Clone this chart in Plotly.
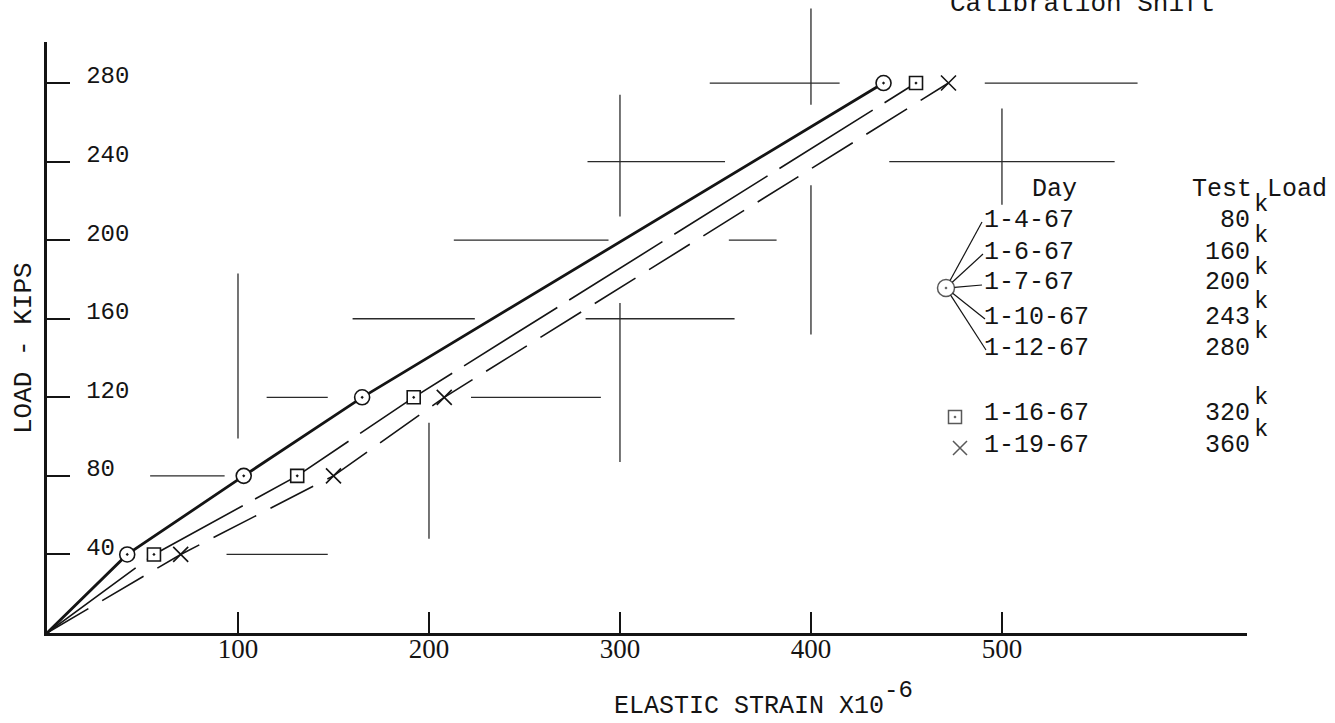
import plotly.graph_objects as go

# Calibration readings: load steps (kips) and elastic strain (x10^-6) per run
load_kips = [40, 80, 120, 280]
strain_circle = [42, 103, 165, 438]
strain_square = [56, 131, 192, 455]
strain_cross = [70, 150, 208, 472]

x_tick_vals = [100, 200, 300, 400, 500]
x_tick_text = ["100", "200", "300", "400", "500"]
y_tick_vals = [40, 80, 120, 160, 200, 240, 280]
y_tick_text = ["40", "80", "120", "160", "200", "240", "280"]

circle_days = ["1-4-67", "1-6-67", "1-7-67", "1-10-67", "1-12-67"]
circle_loads = [80, 160, 200, 243, 280]
square_day, square_load = "1-16-67", 320
cross_day, cross_load = "1-19-67", 360

# Drafting-grid guide strokes: (load, strain_from, strain_to) and (strain, load_from, load_to)
guide_h = [(280, 347, 415), (280, 491, 571), (240, 283, 355), (240, 441, 559),
           (200, 213, 294), (200, 357, 382), (160, 160, 224), (160, 282, 360),
           (120, 115, 147), (120, 222, 290), (80, 54, 93), (40, 94, 147)]
guide_v = [(100, 99, 183), (200, 48, 107), (300, 212, 274), (300, 87, 168),
           (400, 269, 318), (400, 152, 228), (500, 218, 267)]

# ---- page geometry (pixels) ----
FIG_W, FIG_H = 1335, 723
AX_L, AX_R, AX_T, AX_B = 47, 1247, 42, 633
X_MAX, Y_MAX = 628.3, 300.9
INK = "#141414"
MONO = "Liberation Mono"


def px_x(v):
    return AX_L + v * (AX_R - AX_L) / X_MAX


def px_y(v):
    return AX_B - v * (AX_B - AX_T) / Y_MAX


def paper(px, py):
    return px / FIG_W, 1 - py / FIG_H


fig = go.Figure()

# calibration lines, each starting at the origin
runs = [
    (strain_circle, "solid", 2.8, "circle-dot", 15),
    (strain_square, "110px,14px", 1.6, "square-dot", 13),
    (strain_cross, "48px,16px", 1.6, "x-thin", 15),
]
for strains, dash, width, symbol, size in runs:
    fig.add_trace(go.Scatter(
        x=[0] + strains, y=[0] + load_kips, mode="lines",
        line=dict(color=INK, width=width, dash=dash), hoverinfo="skip",
        showlegend=False, cliponaxis=False))
for strains, dash, width, symbol, size in runs:
    fig.add_trace(go.Scatter(
        x=strains, y=load_kips, mode="markers",
        marker=dict(symbol=symbol, size=size, color="white",
                    line=dict(color=INK, width=1.6)),
        showlegend=False, cliponaxis=False))

# guide strokes
shapes = []
for y, x0, x1 in guide_h:
    a = paper(px_x(x0), px_y(y))
    b = paper(px_x(x1), px_y(y))
    shapes.append(dict(type="line", xref="paper", yref="paper", x0=a[0], y0=a[1],
                       x1=b[0], y1=b[1], line=dict(color="#2a2a2a", width=1.3), layer="below"))
for x, y0, y1 in guide_v:
    a = paper(px_x(x), px_y(y0))
    b = paper(px_x(x), px_y(y1))
    shapes.append(dict(type="line", xref="paper", yref="paper", x0=a[0], y0=a[1],
                       x1=b[0], y1=b[1], line=dict(color="#2a2a2a", width=1.3), layer="below"))

# ---- key at the right ----
row_y = [220, 252, 283, 317, 348]
sq_row, cx_row = 413, 445
date_left = 982
load_right = 1252
circ_c = (946, 288)

annotations = []


def txt(s, x, y, anchor="left", size=25, font=MONO, yanchor="middle"):
    fx, fy = paper(x, y)
    annotations.append(dict(text=s, x=fx, y=fy, xref="paper", yref="paper",
                            xanchor=anchor, yanchor=yanchor, showarrow=False,
                            font=dict(family=font, size=size, color=INK)))


txt("Day", 1030, 190)
txt("Test Load", 1190, 190)
rows = list(zip(circle_days, circle_loads, row_y)) + [
    (square_day, square_load, sq_row), (cross_day, cross_load, cx_row)]
for d, ld, ry in rows:
    txt(d, date_left, ry)
    txt(str(ld), load_right, ry, anchor="right")
    txt("k", load_right, ry - 16, size=24)

# fan connecting the circle symbol to its five dates
for ry, dx in zip(row_y, [982, 983, 982, 985, 986]):
    vx, vy = dx - circ_c[0], (ry + 2) - circ_c[1]
    n = (vx * vx + vy * vy) ** 0.5
    sx, sy = circ_c[0] + 8.5 * vx / n, circ_c[1] + 8.5 * vy / n
    a = paper(sx, sy)
    b = paper(dx, ry + 2)
    shapes.append(dict(type="line", xref="paper", yref="paper", x0=a[0], y0=a[1],
                       x1=b[0], y1=b[1], line=dict(color=INK, width=1.2)))

fig.add_trace(go.Scatter(
    x=[circ_c[0], 955, 960], y=[circ_c[1], sq_row + 4, cx_row + 3], mode="markers",
    marker=dict(symbol=["circle-dot", "square-dot", "x-thin"], size=[17, 13, 14],
                color="white", line=dict(color=INK, width=1.5)),
    xaxis="x2", yaxis="y2", showlegend=False, hoverinfo="skip"))

# axis titles and heading
txt("ELASTIC STRAIN X10", 612, 706, size=25)
txt("-6", 882, 690, size=24)
fx, fy = paper(24, 348)
annotations.append(dict(text="LOAD - KIPS", x=fx, y=fy, xref="paper", yref="paper",
                        textangle=-90, showarrow=False, xanchor="center", yanchor="middle",
                        font=dict(family=MONO, size=26, color=INK)))
txt("Calibration Shift", 948, 21, size=26, yanchor="bottom")

fig.update_layout(
    width=FIG_W, height=FIG_H, margin=dict(l=0, r=0, t=0, b=0),
    paper_bgcolor="white", plot_bgcolor="rgba(0,0,0,0)",
    shapes=shapes, annotations=annotations, showlegend=False,
    xaxis=dict(domain=[AX_L / FIG_W, AX_R / FIG_W], range=[0, X_MAX],
               showgrid=False, zeroline=False, showline=True, linecolor=INK, linewidth=3,
               ticks="inside", ticklen=21, tickwidth=1.5, tickcolor=INK,
               tickvals=x_tick_vals, ticktext=x_tick_text, ticklabelstandoff=-10,
               tickfont=dict(family="Liberation Serif", size=27, color=INK)),
    yaxis=dict(domain=[1 - AX_B / FIG_H, 1 - AX_T / FIG_H], range=[0, Y_MAX],
               showgrid=False, zeroline=False, showline=True, linecolor=INK, linewidth=3,
               ticks="inside", ticklen=23, tickwidth=1.5, tickcolor=INK,
               ticklabelposition="inside", ticklabelshift=-8, ticklabelstandoff=18,
               tickvals=y_tick_vals, ticktext=y_tick_text,
               tickfont=dict(family=MONO, size=24, color=INK)),
    xaxis2=dict(domain=[0, 1], range=[0, FIG_W], visible=False, anchor="y2"),
    yaxis2=dict(domain=[0, 1], range=[FIG_H, 0], visible=False, anchor="x2"),
)

fig.write_html("out.html")
